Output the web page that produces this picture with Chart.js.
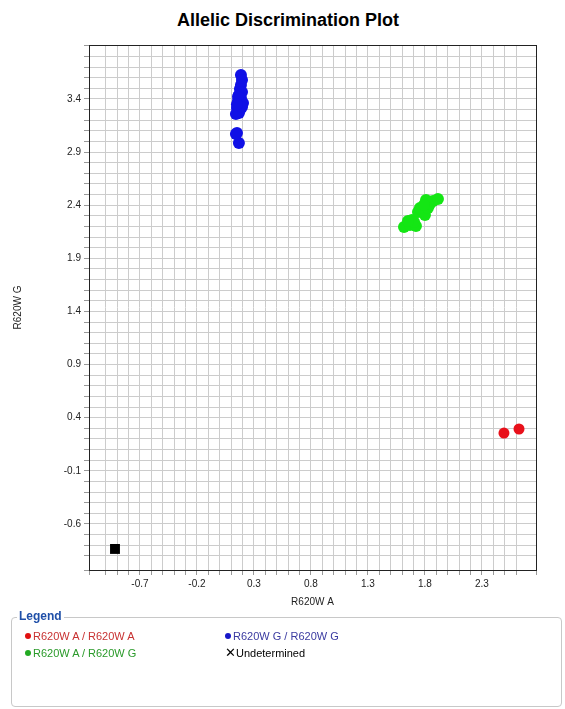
<!DOCTYPE html>
<html>
<head>
<meta charset="utf-8">
<script src="https://cdn.jsdelivr.net/npm/chart.js@4"></script>
<style>
  body { margin: 0; background: #fff; font-family: "Liberation Sans", Arial, sans-serif; }
  #wrap { position: relative; width: 565px; height: 709px; }
  #title { position: absolute; left: 0; width: 576px; top: 10px; text-align: center; font-size: 18px; font-weight: bold; color: #000; }
  #box { position: absolute; left: 0; top: 0; width: 565px; height: 612px; }
  #legend { position: absolute; left: 11px; top: 617px; width: 549px; height: 88px; border: 1px solid #c8c8c8; border-radius: 4px; }
  #legend .head { position: absolute; left: 5px; top: -9px; background: #fff; color: #1f4fa8; font-weight: bold; font-size: 12px; padding: 0 2px; }
  #legend .item { position: absolute; font-size: 11px; white-space: nowrap; }
  #legend .dot { display: inline-block; width: 6px; height: 6px; border-radius: 50%; margin-right: 2px; vertical-align: 1px; }
</style>
</head>
<body>
<div id="wrap">
  <div id="title">Allelic Discrimination Plot</div>
  <div id="box"><canvas id="plot"></canvas></div>
  <div id="legend"><span class="head">Legend</span></div>
</div>
<script>
const SERIES = ["R620W A / R620W A", "R620W G / R620W G", "R620W A / R620W G", "Undetermined"]
const COLORS = ["#e8101a", "#1010e6", "#14e614", "#000000"]
const DOT_COLORS = ["#e01010", "#1818c8", "#22aa22", "#000000"]
const TEXT_COLORS = ["#c83232", "#3a3aa0", "#2a9a2a", "#000000"]

const redX = [2.493, 2.625]
const redY = [0.256, 0.294]

const blueX = [0.186, 0.195, 0.186, 0.177, 0.195, 0.168, 0.186, 0.160, 0.177, 0.204, 0.151, 0.177, 0.142, 0.168, 0.195, 0.151, 0.168, 0.142, 0.160, 0.151]
const blueY = [3.626, 3.579, 3.532, 3.494, 3.466, 3.438, 3.409, 3.381, 3.353, 3.362, 3.315, 3.296, 3.259, 3.268, 3.325, 3.080, 2.986, 3.071, 3.420, 3.350]

const greenX = [1.616, 1.668, 1.721, 1.686, 1.739, 1.774, 1.800, 1.756, 1.809, 1.844, 1.870, 1.914, 1.826, 1.791, 1.704, 1.651]
const greenY = [2.195, 2.214, 2.205, 2.261, 2.336, 2.355, 2.308, 2.374, 2.449, 2.412, 2.440, 2.459, 2.374, 2.402, 2.242, 2.252]

const undetX = [-0.919]
const undetY = [-0.835]

const xTickLabels = [-0.7, -0.2, 0.3, 0.8, 1.3, 1.8, 2.3]
const yTickLabels = [-0.6, -0.1, 0.4, 0.9, 1.4, 1.9, 2.4, 2.9, 3.4]

function points(xs, ys) {
  return xs.map(function (x, i) {
    return { x: x, y: ys[i] }
  })
}

function labelOnly(list) {
  return function (value) {
    const hit = list.find(function (v) { return Math.abs(v - value) < 1e-6 })
    return hit === undefined ? "" : String(hit)
  }
}

const frame = {
  id: "frame",
  afterDraw(chart) {
    const a = chart.chartArea
    const ctx = chart.ctx
    ctx.save()
    ctx.strokeStyle = "#222"
    ctx.lineWidth = 1
    ctx.strokeRect(Math.round(a.left) + 0.5, Math.round(a.top) + 0.5, Math.round(a.right - a.left), Math.round(a.bottom - a.top))
    ctx.restore()
  },
}

const sets = [
  { pts: points(redX, redY), style: "circle", r: 5.5 },
  { pts: points(blueX, blueY), style: "circle", r: 6 },
  { pts: points(greenX, greenY), style: "circle", r: 6 },
  { pts: points(undetX, undetY), style: "rect", r: 7 },
]

const tickFont = { family: "'Liberation Sans', Arial, sans-serif", size: 10 }

new Chart(document.getElementById("plot"), {
  type: "scatter",
  data: {
    datasets: sets.map(function (s, i) {
      return {
        label: SERIES[i],
        data: s.pts,
        pointStyle: s.style,
        pointRadius: s.r,
        pointHoverRadius: s.r,
        backgroundColor: COLORS[i],
        borderColor: COLORS[i],
        borderWidth: 0,
      }
    }),
  },
  options: {
    responsive: true,
    maintainAspectRatio: false,
    animation: false,
    layout: { padding: { top: 45, right: 29, left: 0, bottom: 0 } },
    plugins: { legend: { display: false }, tooltip: { enabled: false } },
    scales: {
      x: {
        type: "linear",
        min: -1.147,
        max: 2.774,
        afterFit: function (scale) { scale.height = 42 },
        ticks: {
          stepSize: 0.1,
          autoSkip: false,
          maxRotation: 0,
          color: "#222",
          font: tickFont,
          callback: labelOnly(xTickLabels),
        },
        grid: { color: "#cccccc", tickColor: "#999", tickLength: 5 },
        border: { color: "#222" },
        title: { display: true, text: "R620W A", color: "#222", font: tickFont, padding: { top: 0, bottom: 4 } },
      },
      y: {
        type: "linear",
        min: -1.033,
        max: 3.908,
        afterFit: function (scale) { scale.width = 89 },
        ticks: {
          stepSize: 0.1,
          autoSkip: false,
          color: "#222",
          font: tickFont,
          callback: labelOnly(yTickLabels),
        },
        grid: { color: "#cccccc", tickColor: "#999", tickLength: 5 },
        border: { color: "#222" },
        title: { display: true, text: "R620W G", color: "#222", font: tickFont, padding: { top: 12, bottom: 0 } },
      },
    },
  },
  plugins: [frame],
})

// legend entries, two columns
const legendRoot = document.getElementById("legend")
const spots = [[13, 12], [213, 12], [13, 29], [213, 29]]
SERIES.forEach(function (name, k) {
  const item = document.createElement("div")
  item.className = "item"
  item.style.left = spots[k][0] + "px"
  item.style.top = spots[k][1] + "px"
  item.style.color = TEXT_COLORS[k]
  if (name === "Undetermined") {
    item.innerHTML = '<span style="font-size:13px;line-height:10px">&#x2715;</span>' + name
  } else {
    item.innerHTML = '<span class="dot" style="background:' + DOT_COLORS[k] + '"></span>' + name
  }
  legendRoot.appendChild(item)
})
</script>
</body>
</html>
